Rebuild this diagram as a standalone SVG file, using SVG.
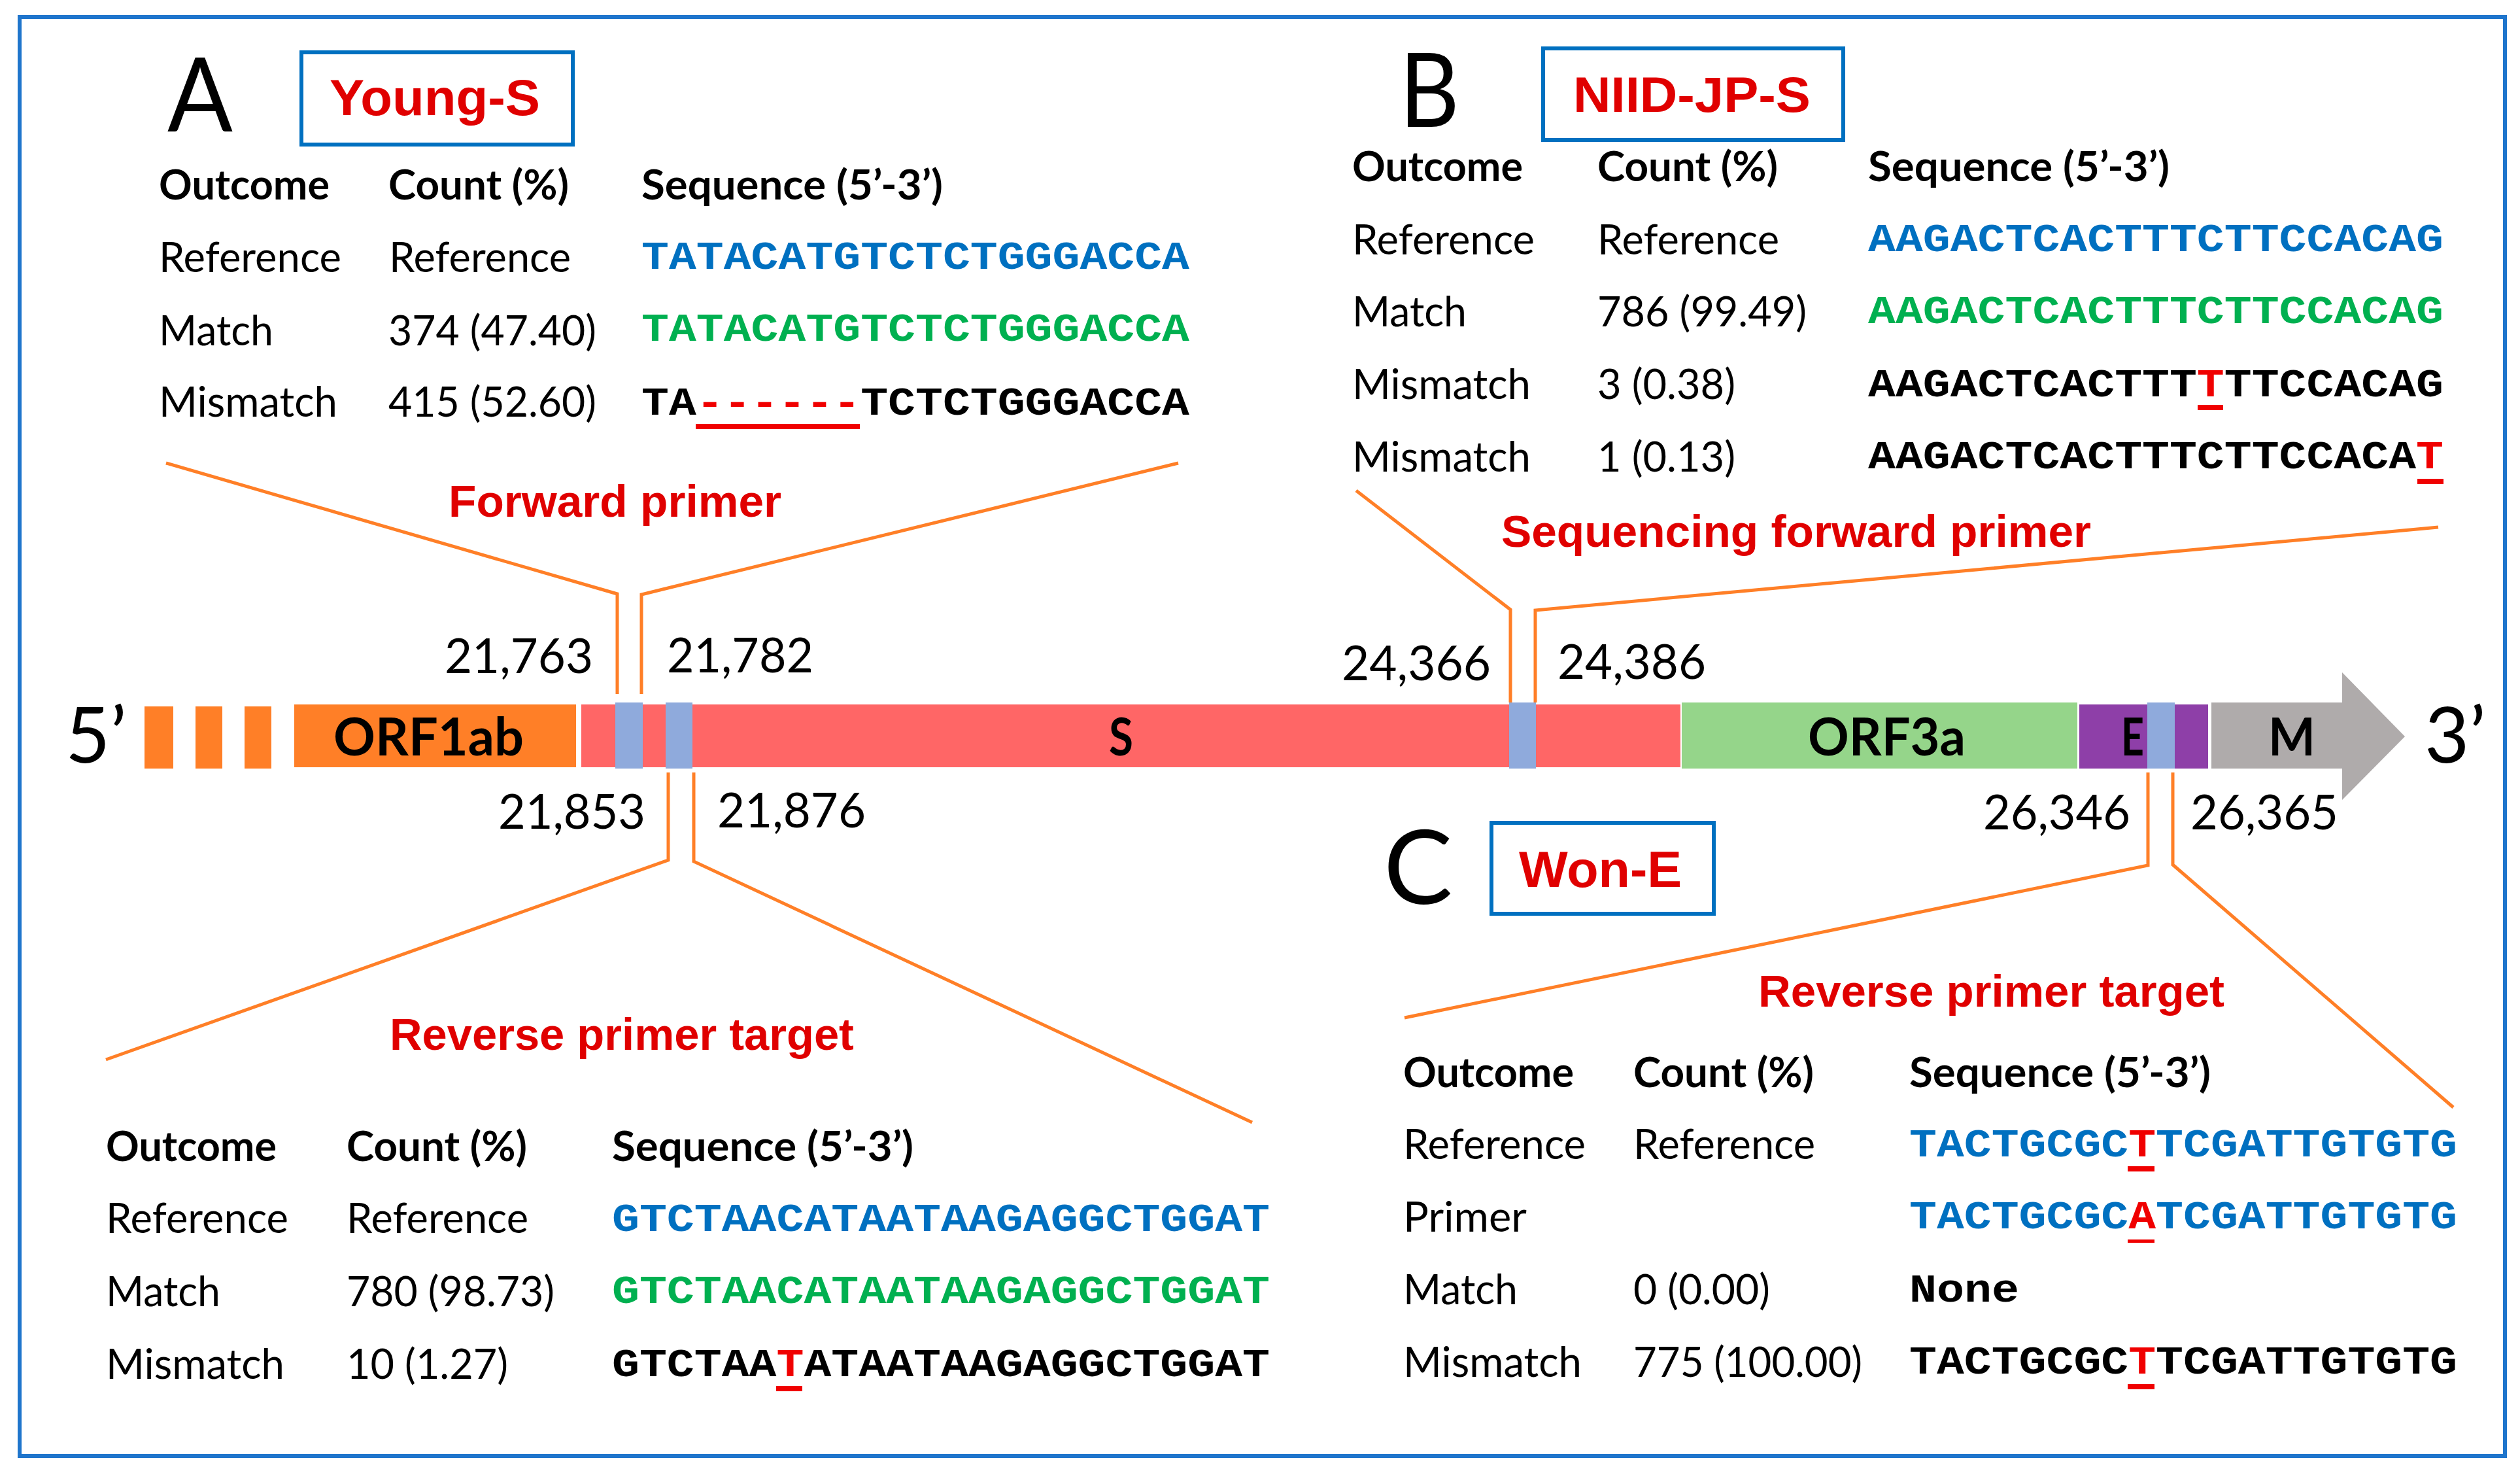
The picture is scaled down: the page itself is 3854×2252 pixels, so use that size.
<svg xmlns="http://www.w3.org/2000/svg" width="3854" height="2252" viewBox="0 0 3854 2252">
<style>
text{white-space:pre}
.h{font-family:Lato,"Noto Sans",sans-serif;font-weight:700;font-size:64px;fill:#000}
.t{font-family:Lato,"Noto Sans",sans-serif;font-size:64px;fill:#000}
.n{font-family:Lato,"Noto Sans",sans-serif;font-size:74px;fill:#000}
.g{font-family:Lato,"Noto Sans",sans-serif;font-weight:700;font-size:80px;fill:#000}
.big{font-family:Lato,"Noto Sans",sans-serif;font-size:158px;fill:#000}
.end{font-family:Lato,"Noto Sans",sans-serif;font-size:118px;fill:#000}
.s{font-family:"Liberation Mono",monospace;font-weight:700;font-size:62px;fill:#000}
.bl{fill:#0070C0}.gr{fill:#00B050}.re{fill:#F00000}
.lab{font-family:"Liberation Sans",Arial,sans-serif;font-weight:700;fill:#E00000}
.box{fill:#fff;stroke:#0070C0;stroke-width:6}
.u{fill:#F00000}
.c{fill:none;stroke:#FF7F27;stroke-width:5}
</style>
<rect id="frame" x="30" y="26" width="3801" height="2200" fill="#fff" stroke="#1F75CC" stroke-width="6"/>
<g id="connectors">
<polyline class="c" points="254,708 944,908 944,1061"/>
<polyline class="c" points="1802,708 981,909 981,1061"/>
<polyline class="c" points="162,1620 1022,1315 1022,1181"/>
<polyline class="c" points="1915,1716 1061,1317 1061,1181"/>
<polyline class="c" points="2074,750 2310,932 2310,1074"/>
<polyline class="c" points="3729,806 2348,933 2348,1074"/>
<polyline class="c" points="2148,1556 3285,1323 3285,1181"/>
<polyline class="c" points="3752,1693 3323,1322 3323,1181"/>
</g>
<g id="genome">
<rect id="orf1ab-dash-1" x="221" y="1080" width="44" height="95" fill="#FF7F27"/>
<rect id="orf1ab-dash-2" x="299" y="1080" width="41" height="95" fill="#FF7F27"/>
<rect id="orf1ab-dash-3" x="374" y="1080" width="41" height="95" fill="#FF7F27"/>
<g id="orf1ab"><rect x="450" y="1077" width="431" height="96" fill="#FF7F27"/><text class="g" x="510" y="1155" textLength="291" lengthAdjust="spacingAndGlyphs">ORF1ab</text></g>
<g id="s"><rect x="889" y="1077" width="1681" height="96" fill="#FF6666"/><text class="g" x="1696" y="1155" textLength="37" lengthAdjust="spacingAndGlyphs">S</text></g>
<g id="orf3a"><rect x="2572" y="1074" width="605" height="101" fill="#95D58A"/><text class="g" x="2765" y="1155" textLength="241" lengthAdjust="spacingAndGlyphs">ORF3a</text></g>
<g id="e"><rect x="3180" y="1077" width="197" height="98" fill="#8E3FA8"/><text class="g" x="3244" y="1155" textLength="35" lengthAdjust="spacingAndGlyphs">E</text></g>
<g id="m"><polygon points="3382,1074 3582,1074 3582,1028 3678,1126 3582,1223 3582,1175 3382,1175" fill="#AFABAB"/><text class="g" x="3469" y="1155" textLength="72" lengthAdjust="spacingAndGlyphs">M</text></g>
<rect id="target-1" x="941" y="1074" width="42" height="101" fill="#8FAADC"/>
<rect id="target-2" x="1018" y="1074" width="41" height="101" fill="#8FAADC"/>
<rect id="target-3" x="2308" y="1074" width="41" height="101" fill="#8FAADC"/>
<rect id="target-4" x="3284" y="1074" width="42" height="101" fill="#8FAADC"/>
<text class="end" x="100" y="1166">5’</text>
<text class="end" x="3708" y="1166">3’</text>
<text class="n" x="680" y="1029" textLength="227" lengthAdjust="spacingAndGlyphs">21,763</text>
<text class="n" x="1020" y="1028" textLength="224" lengthAdjust="spacingAndGlyphs">21,782</text>
<text class="n" x="762" y="1267" textLength="225" lengthAdjust="spacingAndGlyphs">21,853</text>
<text class="n" x="1097" y="1265" textLength="227" lengthAdjust="spacingAndGlyphs">21,876</text>
<text class="n" x="2052" y="1040" textLength="228" lengthAdjust="spacingAndGlyphs">24,366</text>
<text class="n" x="2382" y="1038" textLength="227" lengthAdjust="spacingAndGlyphs">24,386</text>
<text class="n" x="3033" y="1268" textLength="225" lengthAdjust="spacingAndGlyphs">26,346</text>
<text class="n" x="3350" y="1268" textLength="226" lengthAdjust="spacingAndGlyphs">26,365</text>
</g>
<g id="panel-a">
<text class="big" x="256" y="201" textLength="100" lengthAdjust="spacingAndGlyphs">A</text>
<rect class="box" x="461" y="80" width="415" height="141"/>
<text class="lab" font-size="78" x="504" y="176" textLength="322" lengthAdjust="spacingAndGlyphs">Young-S</text>
<text class="h" x="243" y="305" textLength="261" lengthAdjust="spacingAndGlyphs">Outcome</text>
<text class="h" x="594" y="305" textLength="276" lengthAdjust="spacingAndGlyphs">Count (%)</text>
<text class="h" x="981" y="305" textLength="461" lengthAdjust="spacingAndGlyphs">Sequence (5’-3’)</text>
<text class="t" x="243" y="416" textLength="279" lengthAdjust="spacingAndGlyphs">Reference</text>
<text class="t" x="595" y="416" textLength="278" lengthAdjust="spacingAndGlyphs">Reference</text>
<text class="t" x="243" y="528" textLength="175" lengthAdjust="spacingAndGlyphs">Match</text>
<text class="t" x="594" y="528" textLength="318" lengthAdjust="spacingAndGlyphs">374 (47.40)</text>
<text class="t" x="243" y="637" textLength="273" lengthAdjust="spacingAndGlyphs">Mismatch</text>
<text class="t" x="594" y="637" textLength="318" lengthAdjust="spacingAndGlyphs">415 (52.60)</text>
<text class="s bl" x="981" y="411" textLength="838" lengthAdjust="spacingAndGlyphs">TATACATGTCTCTGGGACCA</text>
<text class="s gr" x="981" y="521" textLength="838" lengthAdjust="spacingAndGlyphs">TATACATGTCTCTGGGACCA</text>
<text class="s" x="981" y="634" textLength="838" lengthAdjust="spacingAndGlyphs">TA<tspan class="re">------</tspan>TCTCTGGGACCA</text>
<rect class="u" x="1064" y="648" width="251" height="8"/>
<text class="lab" font-size="68" x="686" y="790" textLength="509" lengthAdjust="spacingAndGlyphs">Forward primer</text>
</g>
<g id="panel-b">
<text class="big" x="2140" y="194" textLength="92" lengthAdjust="spacingAndGlyphs">B</text>
<rect class="box" x="2360" y="74" width="459" height="140"/>
<text class="lab" font-size="76" x="2406" y="171" textLength="363" lengthAdjust="spacingAndGlyphs">NIID-JP-S</text>
<text class="h" x="2068" y="277" textLength="261" lengthAdjust="spacingAndGlyphs">Outcome</text>
<text class="h" x="2443" y="277" textLength="276" lengthAdjust="spacingAndGlyphs">Count (%)</text>
<text class="h" x="2857" y="277" textLength="461" lengthAdjust="spacingAndGlyphs">Sequence (5’-3’)</text>
<text class="t" x="2068" y="389" textLength="279" lengthAdjust="spacingAndGlyphs">Reference</text>
<text class="t" x="2443" y="389" textLength="278" lengthAdjust="spacingAndGlyphs">Reference</text>
<text class="t" x="2068" y="499" textLength="175" lengthAdjust="spacingAndGlyphs">Match</text>
<text class="t" x="2443" y="499" textLength="320" lengthAdjust="spacingAndGlyphs">786 (99.49)</text>
<text class="t" x="2068" y="610" textLength="273" lengthAdjust="spacingAndGlyphs">Mismatch</text>
<text class="t" x="2443" y="610" textLength="211" lengthAdjust="spacingAndGlyphs">3 (0.38)</text>
<text class="t" x="2068" y="721" textLength="273" lengthAdjust="spacingAndGlyphs">Mismatch</text>
<text class="t" x="2443" y="721" textLength="211" lengthAdjust="spacingAndGlyphs">1 (0.13)</text>
<text class="s bl" x="2857" y="384" textLength="880" lengthAdjust="spacingAndGlyphs">AAGACTCACTTTCTTCCACAG</text>
<text class="s gr" x="2857" y="494" textLength="880" lengthAdjust="spacingAndGlyphs">AAGACTCACTTTCTTCCACAG</text>
<text class="s" x="2857" y="606" textLength="880" lengthAdjust="spacingAndGlyphs">AAGACTCACTTT<tspan class="re">T</tspan>TTCCACAG</text>
<text class="s" x="2857" y="716" textLength="880" lengthAdjust="spacingAndGlyphs">AAGACTCACTTTCTTCCACA<tspan class="re">T</tspan></text>
<rect class="u" x="3361" y="619" width="39" height="8"/>
<rect class="u" x="3697" y="732" width="40" height="8"/>
<text class="lab" font-size="68" x="2296" y="836" textLength="902" lengthAdjust="spacingAndGlyphs">Sequencing forward primer</text>
</g>
<g id="panel-c">
<text class="big" x="2116" y="1382">C</text>
<rect class="box" x="2281" y="1258" width="340" height="139"/>
<text class="lab" font-size="78" x="2323" y="1356" textLength="249" lengthAdjust="spacingAndGlyphs">Won-E</text>
<text class="lab" font-size="68" x="2689" y="1539" textLength="713" lengthAdjust="spacingAndGlyphs">Reverse primer target</text>
<text class="h" x="2146" y="1662" textLength="261" lengthAdjust="spacingAndGlyphs">Outcome</text>
<text class="h" x="2498" y="1662" textLength="276" lengthAdjust="spacingAndGlyphs">Count (%)</text>
<text class="h" x="2920" y="1662" textLength="461" lengthAdjust="spacingAndGlyphs">Sequence (5’-3’)</text>
<text class="t" x="2146" y="1772" textLength="279" lengthAdjust="spacingAndGlyphs">Reference</text>
<text class="t" x="2498" y="1772" textLength="278" lengthAdjust="spacingAndGlyphs">Reference</text>
<text class="t" x="2146" y="1883" textLength="189" lengthAdjust="spacingAndGlyphs">Primer</text>
<text class="t" x="2146" y="1994" textLength="175" lengthAdjust="spacingAndGlyphs">Match</text>
<text class="t" x="2498" y="1994" textLength="209" lengthAdjust="spacingAndGlyphs">0 (0.00)</text>
<text class="t" x="2146" y="2105" textLength="273" lengthAdjust="spacingAndGlyphs">Mismatch</text>
<text class="t" x="2498" y="2105" textLength="350" lengthAdjust="spacingAndGlyphs">775 (100.00)</text>
<text class="s bl" x="2920" y="1768" textLength="838" lengthAdjust="spacingAndGlyphs">TACTGCGC<tspan class="re">T</tspan>TCGATTGTGTG</text>
<text class="s bl" x="2920" y="1878" textLength="838" lengthAdjust="spacingAndGlyphs">TACTGCGC<tspan class="re">A</tspan>TCGATTGTGTG</text>
<text class="s" x="2920" y="1990" textLength="168" lengthAdjust="spacingAndGlyphs">None</text>
<text class="s" x="2920" y="2100" textLength="838" lengthAdjust="spacingAndGlyphs">TACTGCGC<tspan class="re">T</tspan>TCGATTGTGTG</text>
<rect class="u" x="3254" y="1783" width="41" height="8"/>
<rect class="u" x="3254" y="1895" width="41" height="5"/>
<rect class="u" x="3254" y="2116" width="41" height="8"/>
</g>
<g id="panel-d">
<text class="lab" font-size="68" x="596" y="1605" textLength="710" lengthAdjust="spacingAndGlyphs">Reverse primer target</text>
<text class="h" x="162" y="1775" textLength="261" lengthAdjust="spacingAndGlyphs">Outcome</text>
<text class="h" x="530" y="1775" textLength="276" lengthAdjust="spacingAndGlyphs">Count (%)</text>
<text class="h" x="936" y="1775" textLength="461" lengthAdjust="spacingAndGlyphs">Sequence (5’-3’)</text>
<text class="t" x="162" y="1885" textLength="279" lengthAdjust="spacingAndGlyphs">Reference</text>
<text class="t" x="530" y="1885" textLength="278" lengthAdjust="spacingAndGlyphs">Reference</text>
<text class="t" x="162" y="1997" textLength="175" lengthAdjust="spacingAndGlyphs">Match</text>
<text class="t" x="530" y="1997" textLength="318" lengthAdjust="spacingAndGlyphs">780 (98.73)</text>
<text class="t" x="162" y="2108" textLength="273" lengthAdjust="spacingAndGlyphs">Mismatch</text>
<text class="t" x="530" y="2108" textLength="247" lengthAdjust="spacingAndGlyphs">10 (1.27)</text>
<text class="s bl" x="936" y="1882" textLength="1006" lengthAdjust="spacingAndGlyphs">GTCTAACATAATAAGAGGCTGGAT</text>
<text class="s gr" x="936" y="1992" textLength="1006" lengthAdjust="spacingAndGlyphs">GTCTAACATAATAAGAGGCTGGAT</text>
<text class="s" x="936" y="2104" textLength="1006" lengthAdjust="spacingAndGlyphs">GTCTAA<tspan class="re">T</tspan>ATAATAAGAGGCTGGAT</text>
<rect class="u" x="1187" y="2119" width="40" height="8"/>
</g>
</svg>
